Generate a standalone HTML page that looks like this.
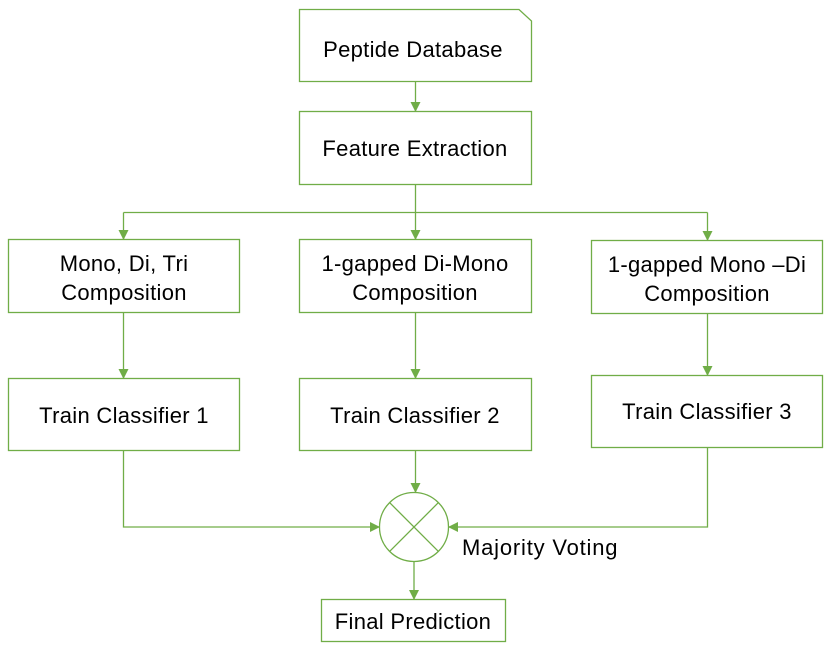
<!DOCTYPE html>
<html><head><style>body{margin:0;background:#fff}svg{display:block}text{font-family:"Liberation Sans",sans-serif;font-size:22px;fill:#000;text-anchor:middle;letter-spacing:0.3px}</style></head>
<body>
<svg width="830" height="647" viewBox="0 0 830 647" xmlns="http://www.w3.org/2000/svg">
<defs><marker id="a" markerWidth="10" markerHeight="10" refX="9" refY="5" orient="auto" markerUnits="userSpaceOnUse"><path d="M0,0 L10,5 L0,10 z" fill="#70ad47"/></marker></defs>
<g fill="none" stroke="#70ad47" stroke-width="1.3">
<path d="M299.5,9.5 H519 L531.5,21 V81.5 H299.5 Z" fill="#fff"/>
<rect x="299.5" y="111.5" width="232" height="73"/>
<rect x="8.5" y="239.5" width="231" height="73"/>
<rect x="299.5" y="239.5" width="232" height="73"/>
<rect x="591.5" y="240.5" width="231" height="73"/>
<rect x="8.5" y="378.5" width="231" height="72"/>
<rect x="299.5" y="378.5" width="232" height="72"/>
<rect x="591.5" y="375.5" width="231" height="72"/>
<rect x="321.5" y="599.5" width="184" height="42"/>
<circle cx="414" cy="527" r="34.5"/>
<path d="M389.6,502.6 L438.4,551.4 M438.4,502.6 L389.6,551.4"/>
<path d="M415.5,81.5 V111" marker-end="url(#a)"/>
<path d="M415.5,184.5 V239" marker-end="url(#a)"/>
<path d="M123.5,212.5 H707.5"/>
<path d="M123.5,212.5 V239" marker-end="url(#a)"/>
<path d="M707.5,212.5 V240" marker-end="url(#a)"/>
<path d="M123.5,312.5 V378" marker-end="url(#a)"/>
<path d="M415.5,312.5 V378" marker-end="url(#a)"/>
<path d="M707.5,313.5 V375" marker-end="url(#a)"/>
<path d="M415.5,450.5 V492" marker-end="url(#a)"/>
<path d="M123.5,450.5 V527 H379" marker-end="url(#a)"/>
<path d="M707.5,447.5 V527 H449" marker-end="url(#a)"/>
<path d="M414,561.5 V599" marker-end="url(#a)"/>
</g>
<text x="413" y="57">Peptide Database</text>
<text x="415" y="156">Feature Extraction</text>
<text x="124" y="271">Mono, Di, Tri</text>
<text x="124" y="300">Composition</text>
<text x="415" y="271">1-gapped Di-Mono</text>
<text x="415" y="300">Composition</text>
<text x="707" y="272">1-gapped Mono –Di</text>
<text x="707" y="301">Composition</text>
<text x="124" y="423">Train Classifier 1</text>
<text x="415" y="423">Train Classifier 2</text>
<text x="707" y="419">Train Classifier 3</text>
<text x="462" y="555" style="text-anchor:start;letter-spacing:0.8px">Majority Voting</text>
<text x="413" y="629">Final Prediction</text>
</svg>
</body></html>
